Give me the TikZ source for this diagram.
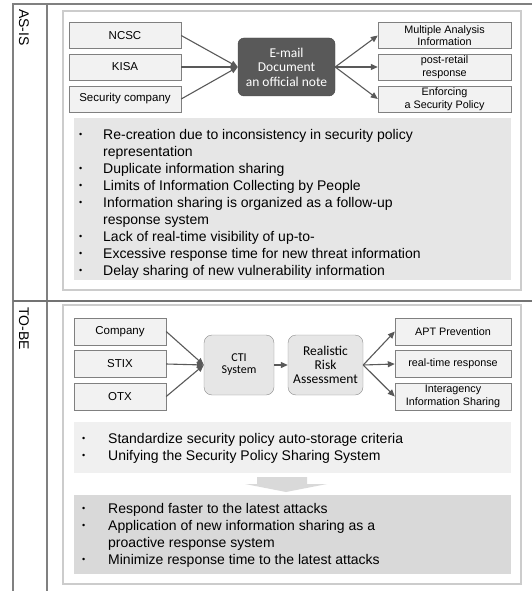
\documentclass[tikz,border=0pt]{standalone}
\usepackage{fontspec}
\setmainfont{Liberation Sans}
\newfontfamily\notefont{Carlito}
\usetikzlibrary{arrows.meta,positioning}
\definecolor{rule}{RGB}{128,128,128}
\definecolor{framec}{RGB}{204,204,204}
\definecolor{paper}{RGB}{242,242,242}
\definecolor{ink}{RGB}{89,89,89}
\definecolor{oldbg}{RGB}{230,230,230}
\definecolor{stdbg}{RGB}{240,240,240}
\definecolor{newbg}{RGB}{217,217,217}
\newcommand{\dotmark}{\raisebox{2.6pt}{\fontsize{9}{9}\selectfont\textbullet}}

\begin{document}
\begin{tikzpicture}[x=1pt,y=-1pt,
  src/.style={draw=rule,fill=paper,inner sep=0pt,minimum height=26,align=center,font=\fontsize{11.5}{13}\selectfont},
  dst/.style={src,font=\fontsize{10.8}{12.5}\selectfont},
  hub/.style={draw=ink!80!black,fill=ink,rounded corners=6,inner sep=0pt,text=white,align=center,font=\notefont\fontsize{13.5}{14.5}\selectfont},
  proc/.style={draw=rule!90,fill=oldbg,rounded corners=8,inner sep=0pt,align=center,minimum height=60,font=\notefont\fontsize{13.5}{14}\selectfont},
  flow/.style={draw=ink,line width=1.1pt,-{Triangle[length=7pt,width=6pt]}},
  panel/.style={draw=framec,line width=1.5pt},
  lst/.style={anchor=north west,inner sep=0pt,font=\fontsize{14}{17}\selectfont},
  tag/.style={rotate=-90,anchor=west,inner sep=0pt,font=\fontsize{14}{14}\selectfont}]
\useasboundingbox (0,0) rectangle (532,591);
% table
\draw[rule,line width=1.2pt] (13,591) -- (13,4) -- (532,4);
\draw[rule,line width=1.2pt] (47,4) -- (47,591);
\draw[rule!90!black,line width=1.8pt] (13,301) -- (532,301);
\node[tag] (asis) at (24,9) {AS-IS};
\node[tag] (tobe) at (24,307) {TO-BE};
\draw[panel] (63,11) rectangle (521,290);
\draw[panel] (63,305) rectangle (521,584);

% as-is flow
\node[src,minimum width=112] (ncsc) at (125,35.5) {NCSC};
\node[src,minimum width=112] (kisa) at (125,67) {KISA};
\node[src,minimum width=112] (secco) at (125,99) {Security company};
\node[hub,minimum width=97,minimum height=58] (mail) at (286.5,67) {E-mail\\Document\\an official note};
\node[dst,minimum width=133] (multi) at (444.5,35.5) {Multiple Analysis\\Information};
\node[dst,minimum width=133] (post) at (444.5,67) {post-retail\\response};
\node[dst,minimum width=133] (enf) at (444.5,99) {Enforcing\\a Security Policy};
\foreach \s in {ncsc,kisa,secco} \draw[flow] (\s.east) -- (mail.west);
\foreach \d in {multi,post,enf} \draw[flow] (mail.east) -- (\d.west);

\fill[oldbg] (74,118) rectangle (511,280);
\node[lst] (issues) at (79,127.7) {\begin{tabular}{@{}p{24pt}@{}l@{}}
\dotmark & Re-creation due to inconsistency in security policy\\
 & representation\\
\dotmark & Duplicate information sharing\\
\dotmark & Limits of Information Collecting by People\\
\dotmark & Information sharing is organized as a follow-up\\
 & response system\\
\dotmark & Lack of real-time visibility of up-to-\\
\dotmark & Excessive response time for new threat information\\
\dotmark & Delay sharing of new vulnerability information
\end{tabular}};

% to-be flow
\node[src,minimum width=92,minimum height=27] (comp) at (120,331.5) {Company};
\node[src,minimum width=92,minimum height=27] (stix) at (120,364) {STIX};
\node[src,minimum width=92,minimum height=27] (otx) at (120,396.5) {OTX};
\node[proc,minimum width=70,font=\notefont\fontsize{12}{12}\selectfont] (cti) at (239,365) {CTI\\System};
\node[proc,minimum width=75] (risk) at (325.5,365) {Realistic\\Risk\\Assessment};
\node[dst,minimum width=116,minimum height=27] (apt) at (453,331.5) {APT Prevention};
\node[dst,minimum width=116,minimum height=27] (rt) at (453,364) {real-time response};
\node[dst,minimum width=116,minimum height=27] (inter) at (453,396.5) {Interagency\\Information Sharing};
\foreach \s in {comp,stix,otx} \draw[flow] (\s.east) -- (cti.west);
\draw[flow] (cti) -- (risk);
\foreach \d in {apt,rt,inter} \draw[flow] (risk.east) -- (\d.west);

\fill[stdbg] (74,422) rectangle (511,473);
\node[lst] (steps) at (82,431.7) {\begin{tabular}{@{}p{26pt}@{}l@{}}
\dotmark & Standardize security policy auto-storage criteria\\
\dotmark & Unifying the Security Policy Sharing System
\end{tabular}};
\fill[gray!30] (257,477) -- (307,477) -- (307,484) -- (327,484) -- (286,492) -- (245,484) -- (257,484) -- cycle;
\fill[newbg] (74,495) rectangle (511,574);
\node[lst] (gains) at (82,501.7) {\begin{tabular}{@{}p{26pt}@{}l@{}}
\dotmark & Respond faster to the latest attacks\\
\dotmark & Application of new information sharing as a\\
 & proactive response system\\
\dotmark & Minimize response time to the latest attacks
\end{tabular}};
\end{tikzpicture}
\end{document}
